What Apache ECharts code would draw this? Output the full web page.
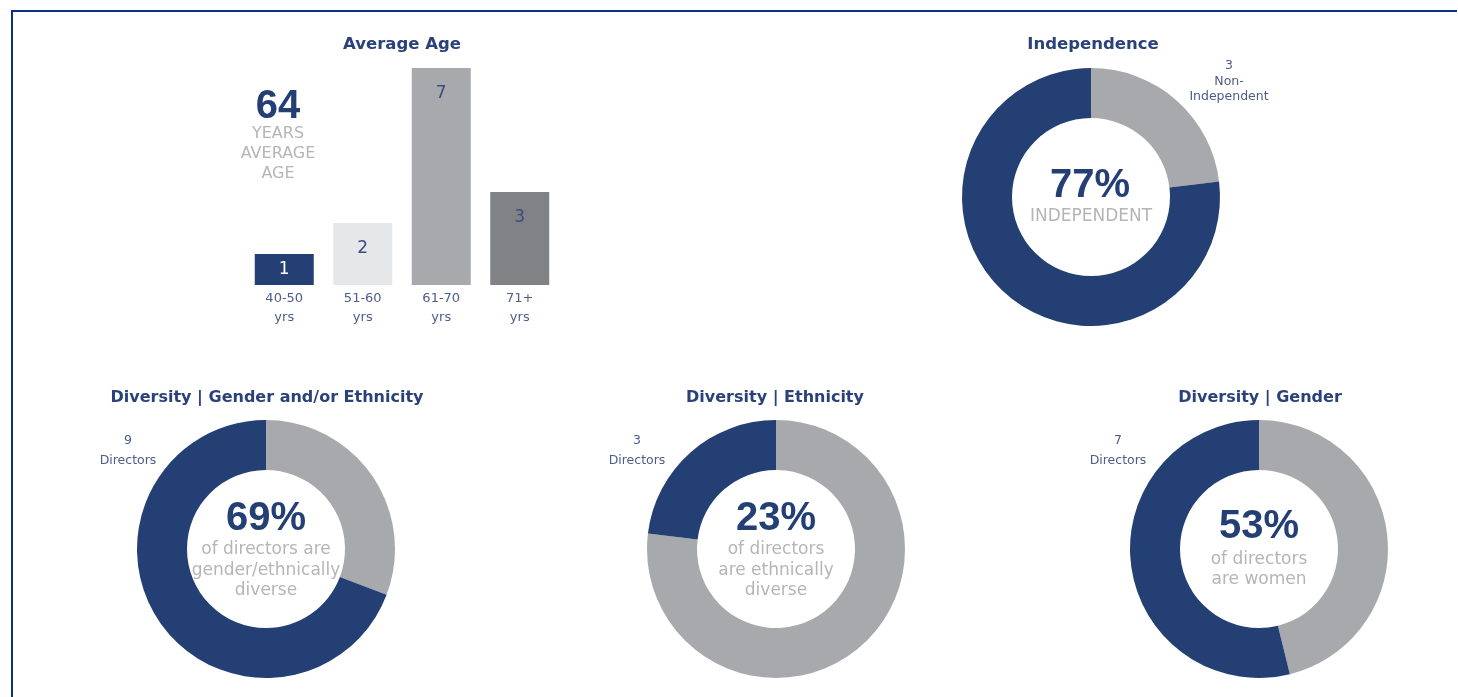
<!DOCTYPE html>
<html>
<head>
<meta charset="utf-8">
<title>Board Composition</title>
<script src="https://cdn.jsdelivr.net/npm/echarts@6/dist/echarts.min.js"></script>
<style>
  html, body { margin: 0; padding: 0; background: #fff; }
  #chart { width: 1458px; height: 697px; }
</style>
</head>
<body>
<div id="chart"></div>
<script>
// data
const ageCategories = ['40-50\nyrs', '51-60\nyrs', '61-70\nyrs', '71+\nyrs']
const ageCounts = [1, 2, 7, 3]
const sliceNames = ['Other', 'Highlighted']
const independence = [3, 10]
const diversityAny = [4, 9]
const diversityEthnicity = [10, 3]
const diversityGender = [6, 7]
const percentLabels = ['77%', '69%', '23%', '53%']

const NAVY = '#243f74'
const GRAY = '#a7a9ac'
const barColors = ['#243f74', '#e6e7e8', '#a7a9ac', '#808285']
const WIDE = '"DejaVu Sans", Verdana, sans-serif'
const BIG = '"Liberation Sans", Arial, sans-serif'

function txt (x, y, text, size, color, bold, family) {
  return {
    type: 'text',
    x: x,
    y: y,
    style: {
      text: text,
      fill: color,
      font: (bold ? 'bold ' : '') + size + 'px ' + (family || WIDE),
      textAlign: 'center',
      textVerticalAlign: 'middle'
    }
  }
}

function donut (center, values) {
  return {
    type: 'pie',
    center: center,
    radius: [79, 129],
    startAngle: 90,
    clockwise: true,
    silent: true,
    label: { show: false },
    labelLine: { show: false },
    data: values.map((v, i) => ({
      name: sliceNames[i],
      value: v,
      itemStyle: { color: i === 0 ? GRAY : NAVY }
    }))
  }
}

const titleColor = '#2a4279'
const grayText = '#b5b5b5'
const noteText = '#4e5c8a'

let option = {
  animation: false,
  backgroundColor: '#fff',
  grid: { left: 245, top: 68, width: 314, height: 217 },
  xAxis: {
    type: 'category',
    data: ageCategories,
    axisLine: { show: false },
    axisTick: { show: false },
    axisLabel: {
      color: noteText,
      fontSize: 13,
      lineHeight: 19,
      margin: 4,
      fontFamily: WIDE
    }
  },
  yAxis: { type: 'value', min: 0, max: 7, show: false },
  series: [
    {
      type: 'bar',
      barWidth: 59,
      silent: true,
      data: ageCounts.map((v, i) => ({
        value: v,
        itemStyle: { color: barColors[i] },
        label: i === 0 ? { position: 'inside', color: '#ffffff' } : {}
      })),
      label: {
        show: true,
        position: 'insideTop',
        distance: 17,
        fontSize: 17,
        color: '#3a4c80',
        fontFamily: WIDE
      }
    },
    donut([1091, 197], independence),
    donut([266, 549], diversityAny),
    donut([776, 549], diversityEthnicity),
    donut([1259, 549], diversityGender)
  ],
  graphic: [
    // frame
    { type: 'line', shape: { x1: 11, y1: 11, x2: 1457, y2: 11 }, style: { stroke: '#0b2f86', lineWidth: 2 } },
    { type: 'line', shape: { x1: 12, y1: 10, x2: 12, y2: 697 }, style: { stroke: '#0b2f86', lineWidth: 2 } },
    // average age
    txt(402, 45, 'Average Age', 16.5, titleColor, true),
    txt(278, 107, '64', 40, NAVY, true, BIG),
    txt(278, 134, 'YEARS', 16, grayText),
    txt(278, 154, 'AVERAGE', 16, grayText),
    txt(278, 174, 'AGE', 16, grayText),
    // independence
    txt(1093, 45, 'Independence', 16.5, titleColor, true),
    txt(1229, 66, '3', 12.5, noteText),
    txt(1229, 82, 'Non-', 12.5, noteText),
    txt(1229, 97, 'Independent', 12.5, noteText),
    txt(1090, 291, '10', 12.5, '#d3d8e6'),
    txt(1090, 306, 'Independent', 12.5, '#d3d8e6'),
    txt(1090, 186, percentLabels[0], 40, NAVY, true, BIG),
    txt(1091, 217, 'INDEPENDENT', 17, grayText),
    // diversity gender and/or ethnicity
    txt(267, 398, 'Diversity | Gender and/or Ethnicity', 16, titleColor, true),
    txt(128, 441, '9', 12.5, noteText),
    txt(128, 461, 'Directors', 12.5, noteText),
    txt(266, 519, percentLabels[1], 40, NAVY, true, BIG),
    txt(266, 550, 'of directors are', 17, grayText),
    txt(266, 571, 'gender/ethnically', 17, grayText),
    txt(266, 591, 'diverse', 17, grayText),
    // diversity ethnicity
    txt(775, 398, 'Diversity | Ethnicity', 16, titleColor, true),
    txt(637, 441, '3', 12.5, noteText),
    txt(637, 461, 'Directors', 12.5, noteText),
    txt(776, 519, percentLabels[2], 40, NAVY, true, BIG),
    txt(776, 550, 'of directors', 17, grayText),
    txt(776, 571, 'are ethnically', 17, grayText),
    txt(776, 591, 'diverse', 17, grayText),
    // diversity gender
    txt(1260, 398, 'Diversity | Gender', 16, titleColor, true),
    txt(1118, 441, '7', 12.5, noteText),
    txt(1118, 461, 'Directors', 12.5, noteText),
    txt(1259, 527, percentLabels[3], 40, NAVY, true, BIG),
    txt(1259, 560, 'of directors', 17, grayText),
    txt(1259, 580, 'are women', 17, grayText)
  ]
}

let chart = echarts.init(document.getElementById('chart'))
chart.setOption(option)
window.addEventListener('resize', () => chart.resize())
</script>
</body>
</html>
